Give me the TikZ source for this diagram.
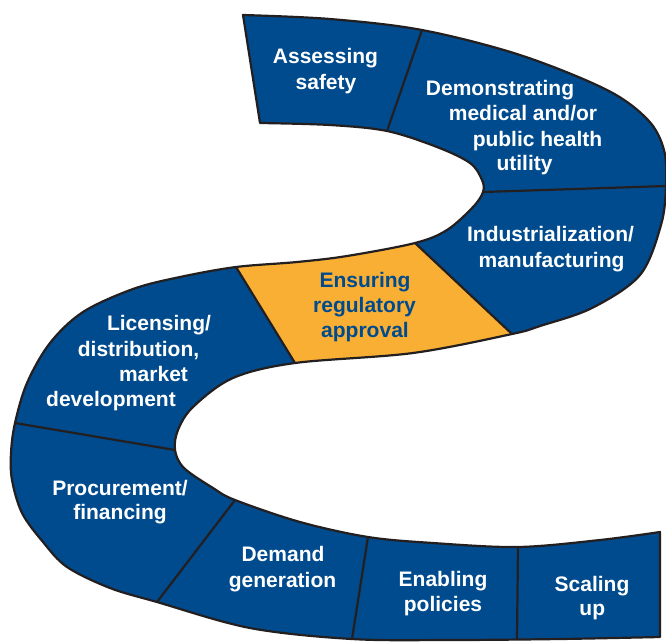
\documentclass[tikz,border=0pt]{standalone}
\usepackage{fontspec}
\setmainfont{Liberation Sans}
\definecolor{bandblue}{RGB}{0,75,141}
\definecolor{bandorange}{RGB}{249,175,51}
\definecolor{edgeblack}{RGB}{35,31,32}
\tikzset{
  bandpath/.style={insert path={
    plot[smooth,tension=0.55] coordinates {(243,15) (330,19) (422,30) (520,55) (607,90) (648,120) (664,150) (666,186) (661,225) (640,275) (592,308) (540,326) (512,334) (413,353) (295,363) (233,378) (193,407) (178,430) (175,450) (184,468) (213,488) (235,500) (300,522) (368,537) (433,543) (518,547) (600,540) (660,532)}
    -- plot[smooth,tension=0.55] coordinates {(660,637) (560,639) (450,640) (352,639) (250,628) (157,602) (110,588) (67,567) (43,542) (22,513) (12,480) (11,453) (15,423) (27,383) (50,343) (83,312) (133,289) (180,277) (236,267) (297,262) (347,256) (415,243) (447,230) (473,207) (483,192) (482,180) (470,163) (437,147) (387,131) (330,125) (260,123)}
    -- cycle}},
  edgeline/.style={draw=edgeblack, line width=2.2pt, line join=round},
  lbl/.style={anchor=base, inner sep=0pt, font=\fontsize{21}{25}\bfseries\selectfont, text=white},
  lblblue/.style={lbl, text=bandblue}
}
\begin{document}
\begin{tikzpicture}[x=1pt,y=-1pt]
\useasboundingbox (0,0) rectangle (666,641);
\clip (0,0) rectangle (666,641);
% segment corners
\coordinate (a1t) at (422,30);  \coordinate (a1b) at (387,131);
\coordinate (d2i) at (483,192); \coordinate (d2o) at (666,186);
\coordinate (i3t) at (415,243); \coordinate (i3b) at (512,334);
\coordinate (l4t) at (236,267); \coordinate (l4b) at (295,363);
\coordinate (l5o) at (15,423);  \coordinate (l5i) at (175,450);
\coordinate (p6t) at (235,500); \coordinate (p6b) at (157,602);
\coordinate (d7t) at (368,537); \coordinate (d7b) at (352,639);
\coordinate (e8t) at (518,547); \coordinate (e8b) at (517,639);
% band
\fill[bandblue, bandpath];
\begin{scope}
  \clip (224,247) -- (405,233) -- (522,343) -- (307,383) -- cycle;
  \fill[bandorange, bandpath];
\end{scope}
\path[edgeline, bandpath];
\draw[edgeline] (a1t) -- (a1b);
\draw[edgeline] (d2i) -- (d2o);
\draw[edgeline] (i3t) -- (i3b);
\draw[edgeline] (l4t) -- (l4b);
\draw[edgeline] (l5o) -- (l5i);
\draw[edgeline] (p6t) -- (p6b);
\draw[edgeline] (d7t) -- (d7b);
\draw[edgeline] (e8t) -- (e8b);
% labels
\node[lbl] (t1a) at (325.5,63.5) {Assessing};
\node[lbl] (t1b) at (326,89) {safety};
\node[lbl] (t2a) at (500,95) {Demonstrating};
\node[lbl] (t2b) at (523,120) {medical and/or};
\node[lbl] (t2c) at (537.5,146) {public health};
\node[lbl] (t2d) at (524.5,170) {utility};
\node[lbl] (t3a) at (550.5,241.5) {Industrialization/};
\node[lbl] (t3b) at (551.5,267) {manufacturing};
\node[lblblue] (t4a) at (365,287.5) {Ensuring};
\node[lblblue] (t4b) at (364.5,312.5) {regulatory};
\node[lblblue] (t4c) at (365,337) {approval};
\node[lbl] (t5a) at (159,330.5) {Licensing/};
\node[lbl] (t5b) at (138.5,356) {distribution,};
\node[lbl] (t5c) at (153.5,381) {market};
\node[lbl] (t5d) at (111,406.5) {development};
\node[lbl] (t6a) at (120,495) {Procurement/};
\node[lbl] (t6b) at (120,519.5) {financing};
\node[lbl] (t7a) at (283,561.5) {Demand};
\node[lbl] (t7b) at (282.5,587) {generation};
\node[lbl] (t8a) at (443,586.5) {Enabling};
\node[lbl] (t8b) at (443,611) {policies};
\node[lbl] (t9a) at (592,591.5) {Scaling};
\node[lbl] (t9b) at (592.3,615.5) {up};
\end{tikzpicture}
\end{document}
